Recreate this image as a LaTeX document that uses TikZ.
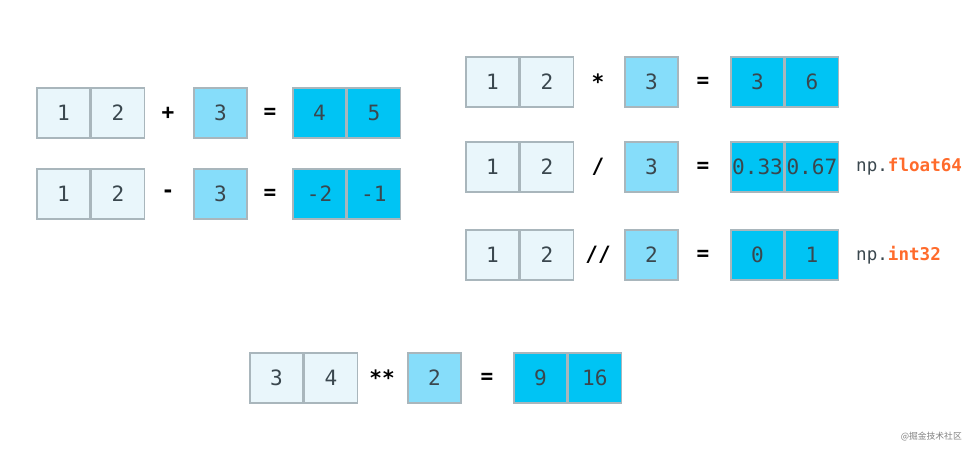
\documentclass[tikz,border=0pt]{standalone}
\usepackage{fontspec}
\setmonofont{DejaVu Sans Mono}
\newfontfamily\cjk{Noto Sans CJK SC}
\usetikzlibrary{positioning}
\definecolor{cellpale}{HTML}{E9F6FB}
\definecolor{cellmid}{HTML}{86DDFA}
\definecolor{celldark}{HTML}{00C4F4}
\definecolor{cellline}{HTML}{A9B6BC}
\definecolor{txtgray}{HTML}{3A474E}
\definecolor{nporange}{HTML}{FF6B2C}
\tikzset{
  cell/.style={draw=cellline, line width=0.8pt, minimum width=53*0.02cm, minimum height=50*0.02cm,
    inner sep=0pt, font=\ttfamily\large, text=txtgray},
  pale/.style={cell, fill=cellpale},
  mid/.style={cell, fill=cellmid},
  dark/.style={cell, fill=celldark},
  op/.style={font=\ttfamily\bfseries\large, text=black},
  dtype/.style={anchor=west, font=\ttfamily, text=txtgray}
}
\begin{document}
\begin{tikzpicture}[x=0.02cm, y=-0.02cm]
   \useasboundingbox (0,0) rectangle (974,451);
   % add / subtract
   \node[pale] (a1) at (63.5,113) {1};
   \node[pale, right=0pt of a1] (a2) {2};
   \node[op] (aop) at (168,113) {+};
   \node[mid] (ab) at (220.5,113) {3};
   \node[op] (aeq) at (270,113) {=};
   \node[dark] (ar1) at (319.5,113) {4};
   \node[dark, right=0pt of ar1] (ar2) {5};

   \node[pale] (s1) at (63.5,194) {1};
   \node[pale, right=0pt of s1] (s2) {2};
   \node[op] (sop) at (168,194) {-};
   \node[mid] (sb) at (220.5,194) {3};
   \node[op] (seq) at (270,194) {=};
   \node[dark] (sr1) at (319.5,194) {-2};
   \node[dark, right=0pt of sr1] (sr2) {-1};

   % multiply / divide
   \node[pale] (m1) at (492.5,82) {1};
   \node[pale, right=0pt of m1] (m2) {2};
   \node[op] (mop) at (598,82) {*};
   \node[mid] (mb) at (651.5,82) {3};
   \node[op] (meq) at (703,82) {=};
   \node[dark] (mr1) at (757.5,82) {3};
   \node[dark, right=0pt of mr1] (mr2) {6};

   \node[pale] (d1) at (492.5,167) {1};
   \node[pale, right=0pt of d1] (d2) {2};
   \node[op] (dop) at (598,167) {/};
   \node[mid] (db) at (651.5,167) {3};
   \node[op] (deq) at (703,167) {=};
   \node[dark] (dr1) at (757.5,167) {0.33};
   \node[dark, right=0pt of dr1] (dr2) {0.67};
   \node[dtype] (dtype) at (850,167) {np.\textcolor{nporange}{\textbf{float64}}};

   \node[pale] (f1) at (492.5,255) {1};
   \node[pale, right=0pt of f1] (f2) {2};
   \node[op] (fop) at (598,255) {//};
   \node[mid] (fb) at (651.5,255) {2};
   \node[op] (feq) at (703,255) {=};
   \node[dark] (fr1) at (757.5,255) {0};
   \node[dark, right=0pt of fr1] (fr2) {1};
   \node[dtype] (ftype) at (850,255) {np.\textcolor{nporange}{\textbf{int32}}};

   % power
   \node[pale] (p1) at (276.5,378) {3};
   \node[pale, right=0pt of p1] (p2) {4};
   \node[op] (pop) at (382,378) {**};
   \node[mid] (pb) at (434.5,378) {2};
   \node[op] (peq) at (487,378) {=};
   \node[dark] (pr1) at (540.5,378) {9};
   \node[dark, right=0pt of pr1] (pr2) {16};

   \node[anchor=east, font=\cjk\tiny, text=gray] (mark) at (968,437) {@掘金技术社区};
\end{tikzpicture}
\end{document}
